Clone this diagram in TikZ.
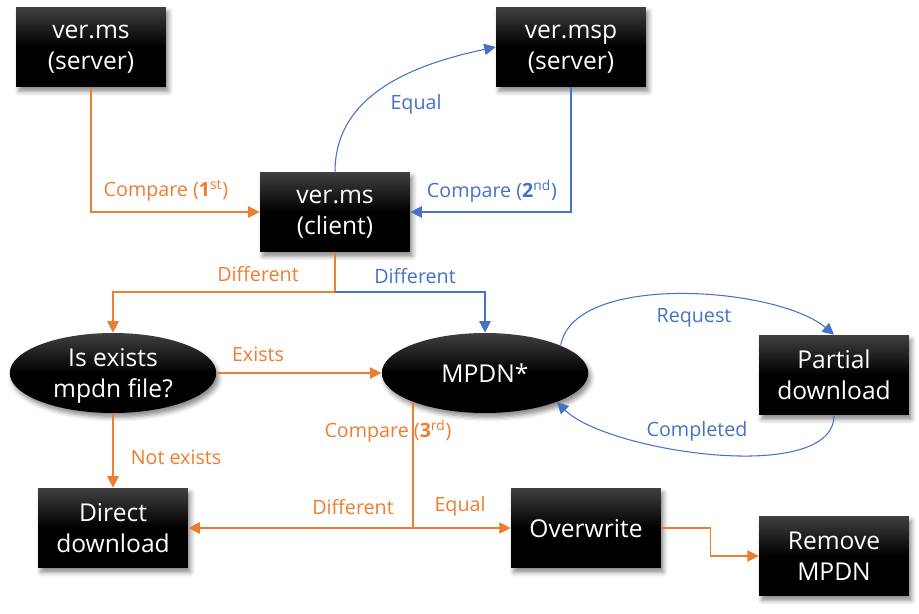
\documentclass[tikz,border=0pt]{standalone}
\usepackage{fontspec}
\setmainfont{Open Sans}
\usetikzlibrary{arrows.meta,shapes.geometric,shadows.blur}

\definecolor{floworange}{HTML}{ED7D31}
\definecolor{flowblue}{HTML}{4472C4}

\begin{document}
\begin{tikzpicture}[x=0.02cm,y=0.02cm,
  blackbox/.style={rectangle,minimum width=3cm,minimum height=1.6cm,inner sep=0pt,
    top color=black!75,bottom color=black,middle color=black,
    text=white,align=center,font=\fontsize{14}{17.5}\selectfont,text depth=0pt,
    blur shadow={shadow xshift=1.5pt,shadow yshift=-2.5pt,shadow blur radius=2.5pt,shadow opacity=45}},
  blackoval/.style={blackbox,ellipse,minimum width=4.13cm},
  orangeline/.style={floworange,line width=0.6pt},
  blueline/.style={flowblue,line width=0.6pt},
  orangearrow/.style={orangeline,-{Triangle[length=6.5pt,width=6.5pt]}},
  bluearrow/.style={blueline,-{Triangle[length=6.5pt,width=6.5pt]}},
  orangelabel/.style={text=floworange,font=\fontsize{11.2}{13}\selectfont,inner sep=0pt},
  bluelabel/.style={text=flowblue,font=\fontsize{11.2}{13}\selectfont,inner sep=0pt}
]
\useasboundingbox (0,0) rectangle (919,-614);

% Nodes
\node[blackbox] (msserver) at (91,-47) {ver.ms\\(server)};
\node[blackbox] (mspserver) at (571,-47) {ver.msp\\(server)};
\node[blackbox] (msclient) at (335,-212) {ver.ms\\(client)};
\node[blackoval] (exists) at (113,-373) {Is exists\\mpdn file?};
\node[blackoval] (mpdn) at (485,-373) {MPDN*};
\node[blackbox] (partial) at (834,-375) {Partial\\download};
\node[blackbox] (direct) at (113,-528) {Direct\\download};
\node[blackbox] (overwrite) at (586,-528) {Overwrite};
\node[blackbox] (remove) at (834,-556) {Remove\\MPDN};

% Version checks
\draw[orangearrow] (msserver.south) |- (msclient.west);
\draw[bluearrow] (mspserver.south) |- (msclient.east);
\draw[bluearrow] (msclient.north) to[out=90,in=192] (mspserver.west);

% Client result
\coordinate (clientsplit) at (335,-292);
\draw[orangeline] (msclient.south) -- (clientsplit);
\draw[orangearrow] (clientsplit) -| (exists.north);
\draw[bluearrow] (clientsplit) -| (mpdn.north);

% File check
\draw[orangearrow] (exists.east) -- (mpdn.west);
\draw[orangearrow] (exists.south) -- (direct.north);

% Partial download loop
\draw[bluearrow] (mpdn.20) to[out=80,in=140,looseness=0.7] (partial.north);
\draw[bluearrow] (partial.south) to[out=-90,in=-45,looseness=0.65] (mpdn.-22);

% Third compare
\coordinate (mpdnsplit) at (413,-528);
\draw[orangeline] (mpdnsplit |- mpdn.202) -- (mpdnsplit);
\draw[orangearrow] (mpdnsplit) -- (direct.east);
\draw[orangearrow] (mpdnsplit) -- (overwrite.west);
\draw[orangearrow] (overwrite.east) -- ++(49,0) |- (remove.west);

% Labels
\node[orangelabel] (lblcmp1) at (166,-191) {Compare (\textbf{1}\textsuperscript{st})};
\node[bluelabel] (lblcmp2) at (492,-191) {Compare (\textbf{2}\textsuperscript{nd})};
\node[bluelabel] (lblequal1) at (416,-104) {Equal};
\node[orangelabel] (lbldiff1) at (258,-274) {Different};
\node[bluelabel] (lbldiff2) at (415,-276) {Different};
\node[orangelabel] (lblexists) at (258,-354) {Exists};
\node[orangelabel] (lblnot) at (176,-457) {Not exists};
\node[orangelabel] (lblcmp3) at (388,-431) {Compare (\textbf{3}\textsuperscript{rd})};
\node[orangelabel] (lbldiff3) at (353,-507) {Different};
\node[orangelabel] (lblequal2) at (460,-506) {Equal};
\node[bluelabel] (lblrequest) at (694,-318) {Request};
\node[bluelabel] (lbldone) at (697,-431) {Completed};

\end{tikzpicture}
\end{document}
